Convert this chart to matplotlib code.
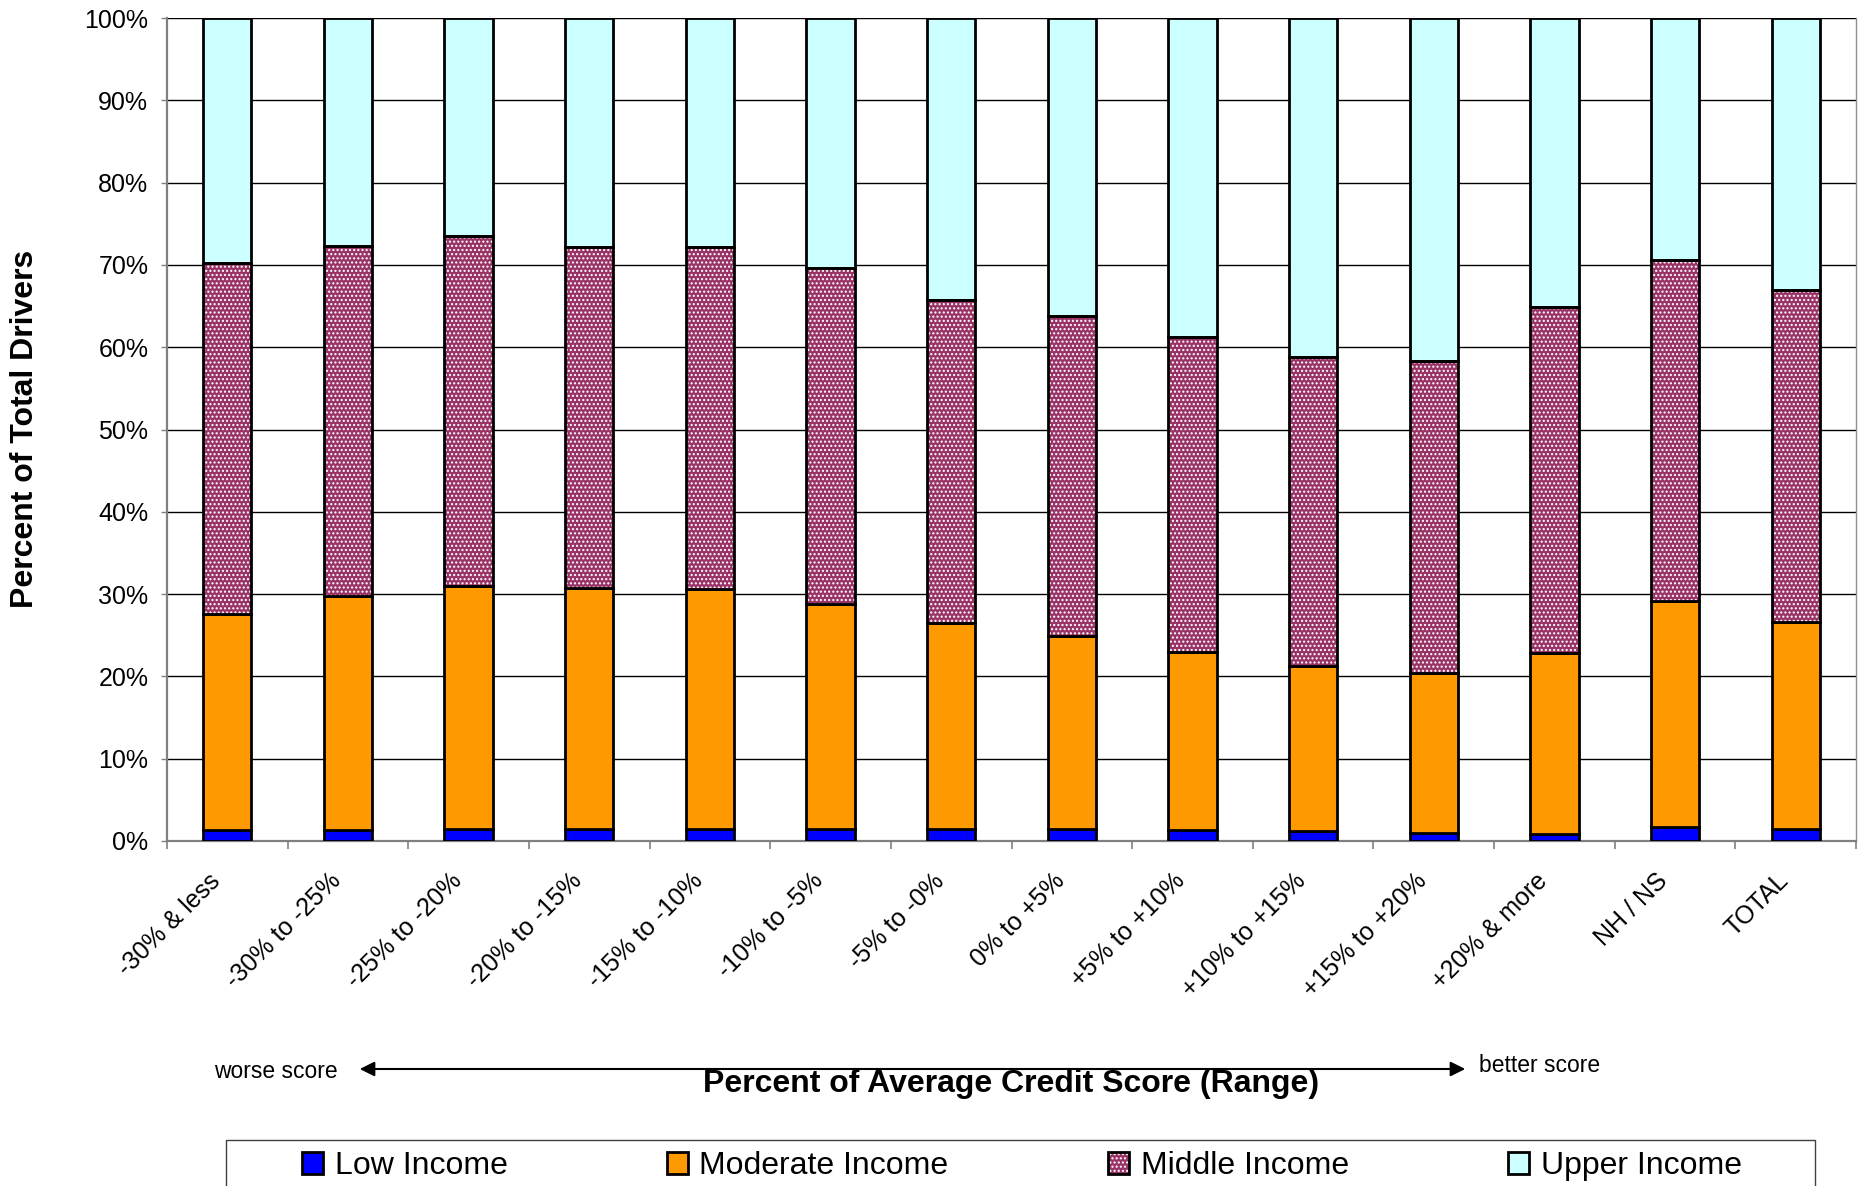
import numpy as np
import matplotlib
matplotlib.use("Agg")
import matplotlib.pyplot as plt
import matplotlib.patches as mpatches
import matplotlib.transforms as mtransforms
from matplotlib.ticker import FixedLocator, PercentFormatter

plt.rcParams['font.family'] = ['Liberation Sans', 'DejaVu Sans']
plt.rcParams['hatch.linewidth'] = 1.0

# credit score ranges, shares of drivers by income group (percent)
ranges = ["-30% & less", "-30% to -25%", "-25% to -20%", "-20% to -15%",
          "-15% to -10%", "-10% to -5%", "-5% to -0%", "0% to +5%",
          "+5% to +10%", "+10% to +15%", "+15% to +20%", "+20% & more",
          "NH / NS", "TOTAL"]
low = [1.3, 1.3, 1.4, 1.4, 1.5, 1.5, 1.4, 1.5, 1.3, 1.2, 1.0, 0.8, 1.7, 1.4]
moderate_top = [27.6, 29.8, 31.0, 30.8, 30.6, 28.8, 26.5,
                24.9, 23.0, 21.3, 20.4, 22.9, 29.2, 26.6]
middle_top = [70.2, 72.3, 73.5, 72.2, 72.2, 69.6, 65.7,
              63.8, 61.2, 58.8, 58.3, 64.9, 70.6, 66.9]

low = np.array(low)
moderate = np.array(moderate_top) - low
middle = np.array(middle_top) - np.array(moderate_top)
upper = 100 - np.array(middle_top)

c_low = "#0000FF"
c_mod = "#FF9900"
c_mid = "#993366"
c_up = "#CCFFFF"

W, H = 1868, 1186
fig = plt.figure(figsize=(W / 100, H / 100), dpi=100)
ax = fig.add_axes([167 / W, 1 - 841 / H, (1856 - 167) / W, (841 - 18) / H])

x = np.arange(len(ranges))
bw = 0.4
lw = 2

ax.bar(x, low, bw, color=c_low, edgecolor="black", linewidth=lw, zorder=3)
b1 = low
ax.bar(x, moderate, bw, bottom=b1, color=c_mod, edgecolor="black", linewidth=lw, zorder=3)
b2 = b1 + moderate
# dotted fill first, black outline on top
ax.bar(x, middle, bw, bottom=b2, color=c_mid, edgecolor="white", hatch="....",
       linewidth=0, zorder=3)
ax.bar(x, middle, bw, bottom=b2, fill=False, edgecolor="black", linewidth=lw, zorder=4)
b3 = b2 + middle
ax.bar(x, upper, bw, bottom=b3, color=c_up, edgecolor="black", linewidth=lw, zorder=3)

ax.set_xlim(-0.5, len(ranges) - 0.5)
ax.set_ylim(0, 100)
ax.set_axisbelow(True)

ax.yaxis.set_major_locator(FixedLocator(np.arange(0, 101, 10)))
ax.yaxis.set_major_formatter(PercentFormatter(decimals=0))
ax.grid(axis="y", color="black", linewidth=1.0)
ax.tick_params(axis="y", direction="out", length=4.5, width=1, color="#808080",
               pad=9, labelsize=18)

ax.set_xticks(x)
ax.set_xticklabels(ranges, rotation=45, ha="right", va="center",
                   rotation_mode="anchor", fontsize=18)
ax.tick_params(axis="x", which="major", length=0, pad=34)
shift = mtransforms.ScaledTranslation(-0.11, 0.11, fig.dpi_scale_trans)
for lab in ax.get_xticklabels():
    lab.set_transform(lab.get_transform() + shift)
ax.set_xticks(np.arange(-0.5, len(ranges)), minor=True)
ax.tick_params(axis="x", which="minor", direction="out", length=6, width=1.2,
               color="#808080")

for s in ["left", "bottom"]:
    ax.spines[s].set_color("#808080")
    ax.spines[s].set_linewidth(1.6)
ax.spines["right"].set_color("#909090")
ax.spines["right"].set_linewidth(1.0)
ax.spines["top"].set_visible(False)

fig.text(25 / W, 1 - 429 / H, "Percent of Total Drivers", rotation=90,
         ha="center", va="center", fontsize=23, fontweight="bold")
fig.text(1011 / W, 1 - 1084 / H, "Percent of Average Credit Score (Range)",
         ha="center", va="center", fontsize=23, fontweight="bold")
fig.text(276 / W, 1 - 1071 / H, "worse score", ha="center", va="center", fontsize=16.5)
fig.text(1540 / W, 1 - 1066 / H, "better score", ha="center", va="center", fontsize=16.5)
fig.add_artist(mpatches.FancyArrowPatch((357 / W, 1 - 1069 / H), (1468 / W, 1 - 1069 / H),
                                        transform=fig.transFigure, arrowstyle="<|-|>",
                                        mutation_scale=22, color="black", linewidth=1.5))

# legend
handles = [
    mpatches.Patch(facecolor=c_low, edgecolor="black", linewidth=lw),
    mpatches.Patch(facecolor=c_mod, edgecolor="black", linewidth=lw),
    (mpatches.Patch(facecolor=c_mid, edgecolor="white", hatch="....", linewidth=0),
     mpatches.Patch(fill=False, edgecolor="black", linewidth=lw)),
    mpatches.Patch(facecolor=c_up, edgecolor="black", linewidth=lw),
]
labels = ["Low Income", "Moderate Income", "Middle Income", "Upper Income"]
fig.legend(handles, labels, loc="center", bbox_to_anchor=(1022 / W, 1 - 1166 / H),
           ncol=4, frameon=False, fontsize=23, handlelength=0.66, handleheight=0.66,
           handletextpad=0.35, columnspacing=5.0)
fig.add_artist(mpatches.Rectangle((226 / W, -0.05), (1815 - 226) / W, (H - 1140) / H + 0.05,
                                  transform=fig.transFigure, fill=False,
                                  edgecolor="#404040", linewidth=1.0))

fig.savefig("out.png", dpi=100)
